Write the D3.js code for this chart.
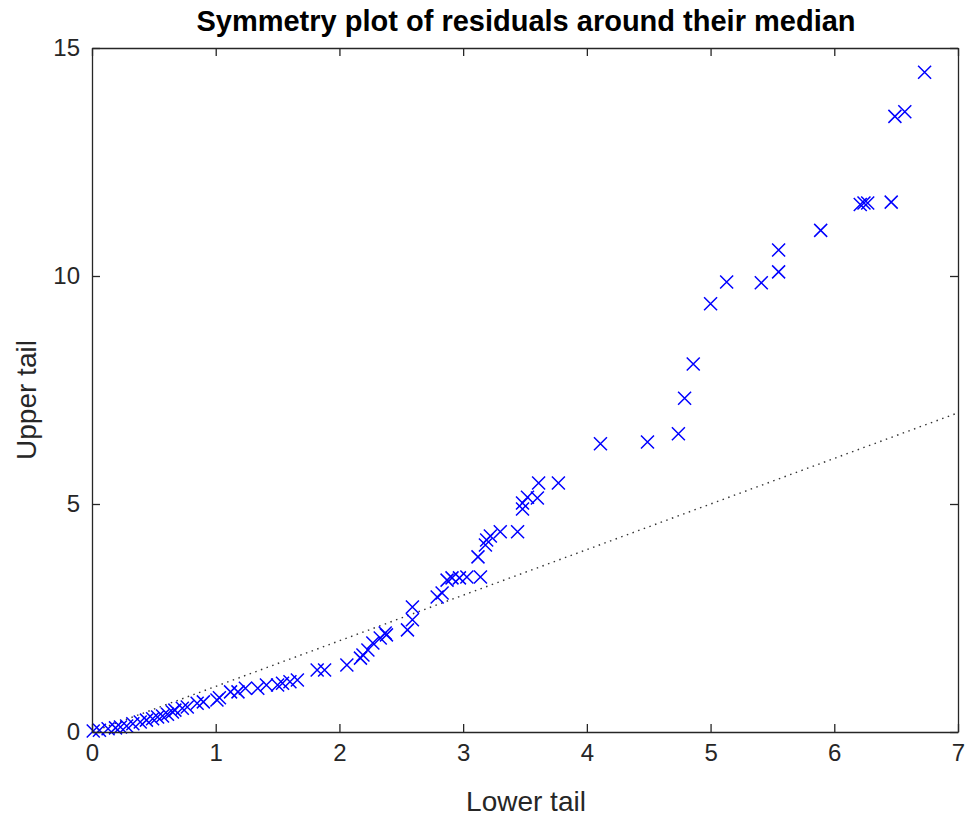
<!DOCTYPE html>
<html><head><meta charset="utf-8">
<script src="https://cdn.jsdelivr.net/npm/d3@7"></script>
<style>body{margin:0;background:#fff}svg{display:block}text{font-family:"Liberation Sans",Arial,sans-serif}</style>
</head><body>
<script>
const lowerTail = [0.01,0.06,0.13,0.19,0.23,0.28,0.33,0.39,0.44,0.49,0.53,0.57,0.61,0.65,0.67,0.73,0.77,0.85,0.90,1.01,1.03,1.12,1.18,1.24,1.34,1.41,1.50,1.54,1.60,1.66,1.82,1.88,2.06,2.17,2.19,2.23,2.27,2.33,2.37,2.38,2.55,2.59,2.59,2.79,2.83,2.87,2.91,2.97,3.03,3.14,3.12,3.18,3.19,3.22,3.30,3.44,3.48,3.48,3.52,3.60,3.61,3.77,4.11,4.49,4.74,4.79,4.86,5.00,5.13,5.41,5.55,5.55,5.89,6.21,6.24,6.27,6.46,6.49,6.57,6.73];
const upperTail = [0.02,0.04,0.07,0.09,0.11,0.13,0.18,0.22,0.26,0.29,0.33,0.35,0.39,0.44,0.48,0.52,0.55,0.63,0.66,0.70,0.75,0.88,0.88,0.96,0.96,1.03,1.03,1.07,1.10,1.14,1.36,1.36,1.47,1.62,1.69,1.80,1.95,2.06,2.17,2.13,2.24,2.46,2.74,2.96,3.05,3.33,3.38,3.38,3.40,3.40,3.84,4.10,4.21,4.30,4.39,4.39,4.89,5.02,5.15,5.13,5.46,5.46,6.32,6.36,6.54,7.32,8.07,9.39,9.87,9.85,10.09,10.57,11.00,11.57,11.60,11.60,11.62,13.50,13.60,14.47];
const xTicks = [0,1,2,3,4,5,6,7];
const yTicks = [0,5,10,15];
const refLine = [[0,0],[7,7]];

const W=968,H=818, L=92, R=958, T=48, B=732;
const svg=d3.select("body").append("svg").attr("width",W).attr("height",H);
const x=d3.scaleLinear().domain([0,7]).range([L,R]);
const y=d3.scaleLinear().domain([0,15]).range([B,T]);
const axCol="#262626";

// reference line
svg.append("path").datum(refLine)
  .attr("d",d3.line().x(d=>x(d[0])).y(d=>y(d[1])))
  .attr("fill","none").attr("stroke","#333").attr("stroke-width",1.4)
  .attr("stroke-dasharray","1.5,4.5");

// markers
const s=6.5;
const g=svg.append("g").attr("stroke","#0000ff").attr("stroke-width",1.5).attr("fill","none");
lowerTail.forEach((v,i)=>{
  const cx=x(v), cy=y(upperTail[i]);
  g.append("path").attr("d",`M${cx-s},${cy-s}L${cx+s},${cy+s}M${cx-s},${cy+s}L${cx+s},${cy-s}`);
});

// axes
const tl=8;
const ax=svg.append("g");
ax.append("g").attr("transform",`translate(0,${B})`)
  .call(d3.axisBottom(x).tickValues(xTicks).tickSizeInner(-tl).tickSizeOuter(0).tickPadding(12).tickFormat(d3.format("d")));
ax.append("g").attr("transform",`translate(0,${T})`)
  .call(d3.axisTop(x).tickValues(xTicks).tickSizeInner(-tl).tickSizeOuter(0).tickFormat(""));
ax.append("g").attr("transform",`translate(${L},0)`)
  .call(d3.axisLeft(y).tickValues(yTicks).tickSizeInner(-tl).tickSizeOuter(0).tickPadding(12).tickFormat(d3.format("d")));
ax.append("g").attr("transform",`translate(${R},0)`)
  .call(d3.axisRight(y).tickValues(yTicks).tickSizeInner(-tl).tickSizeOuter(0).tickFormat(""));
ax.selectAll("path.domain").attr("stroke",axCol).attr("stroke-width",1.3);
ax.selectAll(".tick line").attr("stroke",axCol).attr("stroke-width",1.3);
ax.selectAll(".tick text").attr("fill",axCol).style("font-size","24px").style("font-family","'Liberation Sans',Arial,sans-serif");

svg.append("text").attr("x",(L+R)/2+1).attr("y",31).attr("text-anchor","middle")
  .style("font-size","29px").style("font-weight","bold").attr("fill","#000")
  .text("Symmetry plot of residuals around their median");
svg.append("text").attr("x",(L+R)/2+1).attr("y",811).attr("text-anchor","middle")
  .style("font-size","28px").attr("fill",axCol).text("Lower tail");
svg.append("text").attr("transform",`translate(36,${(T+B)/2+10}) rotate(-90)`).attr("text-anchor","middle")
  .style("font-size","28px").attr("fill",axCol).text("Upper tail");
</script>
</body></html>
